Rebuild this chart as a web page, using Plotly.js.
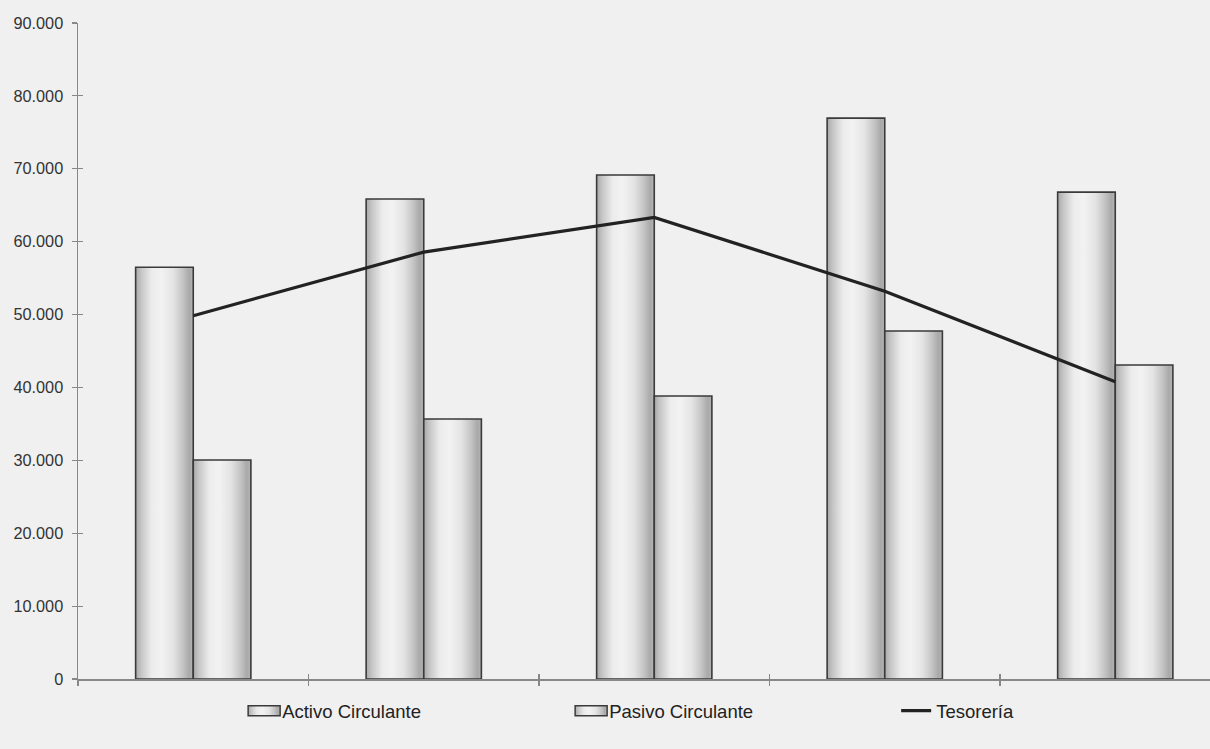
<!DOCTYPE html>
<html><head><meta charset="utf-8">
<script src="https://cdn.plot.ly/plotly-3.0.1.min.js"></script>
<style>html,body{margin:0;padding:0;background:#f0f0f0;overflow:hidden}#chart{width:1210px;height:749px}</style>
</head><body><div id="chart"></div>
<script>
const categories = ['Periodo 1', 'Periodo 2', 'Periodo 3', 'Periodo 4', 'Periodo 5'];
const activoCirculante = [56500, 65850, 69140, 76950, 66800];
const pasivoCirculante = [30040, 35670, 38820, 47740, 43070];
const tesoreria = [49840, 58570, 63330, 53200, 40780];
const seriesNames = ['Activo Circulante', 'Pasivo Circulante', 'Tesorería'];
const yTicks = [0, 10000, 20000, 30000, 40000, 50000, 60000, 70000, 80000, 90000];
const xBoundaries = [0.5, 1.5, 2.5, 3.5];

const barStyle = {color: '#e0e0e0', line: {color: '#3a3a3a', width: 1.6}};
const data = [
  {type: 'bar', name: seriesNames[0], x: categories, y: activoCirculante, marker: barStyle},
  {type: 'bar', name: seriesNames[1], x: categories, y: pasivoCirculante, marker: barStyle},
  {type: 'scatter', mode: 'lines', name: seriesNames[2], x: categories, y: tesoreria,
   line: {color: '#222222', width: 3.2}},
  {type: 'scatter', mode: 'none', x: [0], y: [0], xaxis: 'x2', yaxis: 'y2',
   showlegend: false, hoverinfo: 'skip'}
];
const axisCommon = {tickcolor: '#888888', tickwidth: 1.2, showgrid: false, zeroline: false, fixedrange: true};
const layout = {
  width: 1210, height: 749,
  paper_bgcolor: '#f0f0f0', plot_bgcolor: '#f0f0f0',
  margin: {l: 78, r: 0, t: 23, b: 70, autoexpand: false},
  separators: ',.',
  font: {family: 'Liberation Sans, Arial, sans-serif', color: '#333333'},
  barmode: 'group', bargap: 0.5, bargroupgap: 0,
  showlegend: true,
  legend: {orientation: 'h', x: 0.145, xanchor: 'left', y: -0.049, yanchor: 'middle',
    font: {size: 18.5, color: '#222222'}, entrywidth: 282, entrywidthmode: 'pixels',
    bgcolor: 'rgba(0,0,0,0)', traceorder: 'normal'},
  xaxis: Object.assign({type: 'category', range: [-0.5, 4.411], showticklabels: false, tickson: 'boundaries',
    ticks: 'outside', ticklen: 5, showline: true, linecolor: '#888888', linewidth: 1.5}, axisCommon),
  yaxis: Object.assign({range: [0, 90000], tickvals: yTicks, tickformat: ',d', ticks: 'outside', ticklen: 5,
    showline: true, linecolor: '#888888', linewidth: 1.5,
    tickfont: {size: 16.3, color: '#333333'}, ticklabelstandoff: 5}, axisCommon),
  xaxis2: Object.assign({type: 'linear', overlaying: 'x', anchor: 'y2', side: 'bottom', range: [-0.5, 4.411],
    tickvals: xBoundaries, ticks: 'inside', ticklen: 5, showticklabels: false, showline: false}, axisCommon),
  yaxis2: Object.assign({type: 'linear', overlaying: 'y', anchor: 'x2', side: 'left', range: [0, 90000],
    tickvals: yTicks, ticks: 'inside', ticklen: 5, showticklabels: false, showline: false}, axisCommon)
};

function applyGradient(gd) {
  const svg = gd.querySelector('svg.main-svg');
  if (!svg) return;
  const ns = 'http://www.w3.org/2000/svg';
  let defs = svg.querySelector('defs');
  if (!defs) { defs = document.createElementNS(ns, 'defs'); svg.insertBefore(defs, svg.firstChild); }
  if (!svg.querySelector('#cylGrad')) {
    const g = document.createElementNS(ns, 'linearGradient');
    g.setAttribute('id', 'cylGrad');
    g.setAttribute('x1', '0'); g.setAttribute('y1', '0'); g.setAttribute('x2', '1'); g.setAttribute('y2', '0');
    const stops = [[0, '#a8a8a8'], [0.1, '#c6c6c6'], [0.28, '#ececec'], [0.45, '#f2f2f2'],
                   [0.65, '#e4e4e4'], [0.82, '#c4c4c4'], [0.93, '#a9a9a9'], [1, '#b4b4b4']];
    stops.forEach(([o, c]) => {
      const s = document.createElementNS(ns, 'stop');
      s.setAttribute('offset', o); s.setAttribute('stop-color', c);
      g.appendChild(s);
    });
    defs.appendChild(g);
  }
  gd.querySelectorAll('.barlayer .point path').forEach(p => { p.style.fill = 'url(#cylGrad)'; });
  gd.querySelectorAll('g.legendpoints path').forEach(p => {
    const cls = p.getAttribute('class') || '';
    const d = p.getAttribute('d') || '';
    if (cls.indexOf('legendbar') >= 0 || /^M6,6H-6V-6H6Z$/.test(d)) {
      p.setAttribute('d', 'M-14,5V-5H18V5Z');
      p.style.fill = 'url(#cylGrad)';
      p.style.stroke = '#3a3a3a';
      p.style.strokeWidth = '1.5px';
    }
  });
}

Plotly.newPlot('chart', data, layout, {displayModeBar: false, staticPlot: true}).then(gd => {
  applyGradient(gd);
  gd.on('plotly_afterplot', () => applyGradient(gd));
  setTimeout(() => applyGradient(gd), 50);
});
</script></body></html>
